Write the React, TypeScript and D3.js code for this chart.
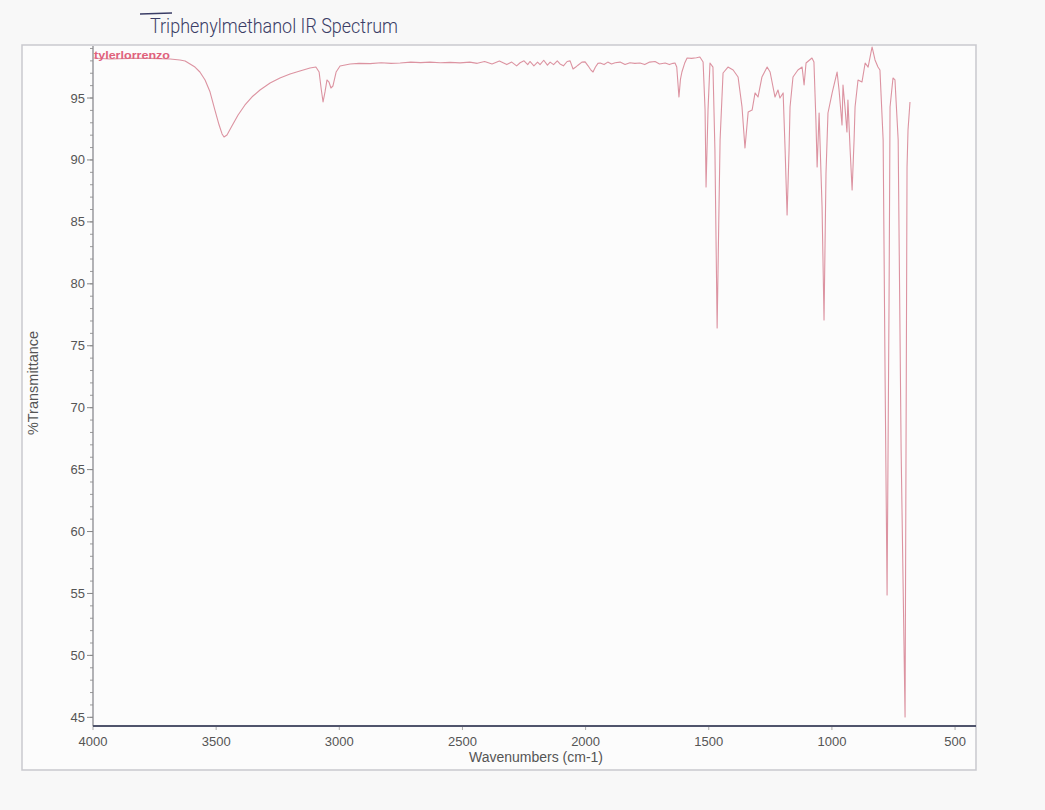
import React from "react";
import * as d3 from "d3";

// Wavenumbers (cm-1)
const wavenumbers: number[] = [
  4000, 3931, 3850, 3769, 3687, 3647, 3626, 3606, 3586, 3566, 3545, 3525, 3505, 3488, 3476, 3468,
  3456, 3436, 3411, 3383, 3354, 3322, 3281, 3241, 3200, 3160, 3119, 3095, 3082, 3074, 3066, 3058,
  3050, 3042, 3034, 3026, 3013, 2997, 2956, 2920, 2875, 2830, 2790, 2753, 2710, 2670, 2632, 2590,
  2550, 2510, 2470, 2440, 2410, 2380, 2350, 2320, 2300, 2280, 2266, 2250, 2235, 2226, 2210, 2195,
  2185, 2170, 2155, 2144, 2130, 2115, 2104, 2090, 2075, 2063, 2051, 2040, 2031, 2015, 2002, 1990,
  1980, 1970, 1960, 1950, 1941, 1925, 1910, 1895, 1880, 1860, 1840, 1820, 1800, 1779, 1760, 1740,
  1718, 1700, 1677, 1660, 1645, 1637, 1630, 1621, 1615, 1609, 1598, 1588, 1570, 1550, 1536, 1523,
  1515, 1511, 1503, 1495, 1483, 1475, 1466, 1458, 1454, 1442, 1422, 1401, 1381, 1365, 1353, 1340,
  1324, 1312, 1300, 1284, 1263, 1251, 1231, 1219, 1211, 1198, 1190, 1182, 1174, 1170, 1158, 1138,
  1121, 1113, 1105, 1081, 1073, 1065, 1060, 1052, 1040, 1032, 1024, 1016, 999, 979, 971, 959,
  955, 947, 939, 935, 926, 918, 910, 906, 894, 878, 865, 853, 837, 825, 813, 805,
  792, 784, 776, 768, 764, 752, 744, 731, 719, 703, 695, 691, 683,
];

// % Transmittance
const transmittance: number[] = [
  98.23, 98.15, 98.2, 98.2, 98.15, 98.07, 97.99, 97.75, 97.5, 97.1, 96.45, 95.5, 94.03, 92.82, 92.1, 91.85,
  92.01, 92.74, 93.63, 94.44, 95.1, 95.65, 96.21, 96.62, 96.94, 97.18, 97.42, 97.5, 97.1, 95.81, 94.68, 95.49,
  96.46, 96.29, 95.81, 95.97, 97.1, 97.59, 97.75, 97.8, 97.78, 97.85, 97.8, 97.83, 97.9, 97.86, 97.9, 97.85,
  97.88, 97.84, 97.9, 97.8, 97.95, 97.75, 97.98, 97.7, 97.9, 97.6, 97.85, 98.0, 97.7, 97.95, 97.6, 97.9,
  97.7, 98.05, 97.65, 97.9, 97.7, 98.0, 97.75, 97.6, 97.95, 98.0, 97.34, 97.5, 97.65, 97.9, 97.92, 97.6,
  97.3, 97.1, 97.5, 97.8, 97.83, 97.7, 97.9, 97.75, 97.85, 97.9, 97.7, 97.85, 97.8, 97.83, 97.7, 97.9,
  97.95, 97.75, 97.83, 97.7, 97.8, 97.83, 97.5, 95.08, 96.5, 97.1, 97.8, 98.23, 98.2, 98.25, 98.31, 97.91,
  94.03, 87.82, 94.03, 97.83, 97.5, 90.81, 76.43, 86.77, 91.61, 97.02, 97.5, 97.26, 96.7, 94.28, 90.97, 93.87,
  94.03, 95.41, 95.08, 96.7, 97.5, 97.1, 95.08, 95.65, 95.0, 95.41, 90.81, 85.56, 90.81, 94.28, 96.7, 97.26,
  97.5, 96.05, 97.83, 98.23, 97.91, 93.23, 89.43, 93.79, 86.2, 77.08, 88.95, 93.79, 95.41, 97.1, 95.65, 92.82,
  96.05, 94.28, 92.26, 94.84, 90.81, 87.57, 91.61, 94.28, 96.46, 96.29, 97.83, 97.5, 99.12, 98.07, 97.5, 97.26,
  91.61, 72.23, 54.88, 78.69, 94.28, 96.62, 96.46, 91.61, 66.58, 45.03, 89.43, 92.42, 94.68,
];

const xTicks: number[] = [4000, 3500, 3000, 2500, 2000, 1500, 1000, 500];
const yTicks: number[] = [45, 50, 55, 60, 65, 70, 75, 80, 85, 90, 95];
const yMinorTicks: number[] = d3.range(45, 100, 1);

const W = 1045;
const H = 810;
const left = 93;
const right = 976;
const top = 46;
const bottom = 726;

export default function App() {
  const x = d3.scaleLinear().domain([4000, 415]).range([left, right]);
  const y = d3.scaleLinear().domain([44.3, 99.2]).range([bottom, top]);
  const pts: [number, number][] = wavenumbers.map((w, i) => [w, transmittance[i]]);
  const line = d3
    .line<[number, number]>()
    .x((d) => x(d[0]))
    .y((d) => y(d[1]));
  const font = "'Liberation Sans', Arial, sans-serif";
  return (
    <svg
      width={W}
      height={H}
      style={{ position: "absolute", left: 0, top: 0 }}
      xmlns="http://www.w3.org/2000/svg"
    >
      <rect x={0} y={0} width={W} height={H} fill="#f8f8f8" />
      {/* outer frame */}
      <rect x={22} y={45} width={right - 22} height={770 - 45} fill="#fcfcfc" stroke="#c9c9ce" strokeWidth={1.5} />
      {/* title (handwritten in original) */}
      <line x1={140} y1={14} x2={172} y2={13} stroke="#3a3d66" strokeWidth={1.3} />
      <text
        x={150}
        y={33}
        fontFamily="Roboto, 'Open Sans', sans-serif"
        fontWeight={300}
        fontSize={21}
        fill="#3a3d66"
        textLength={248}
        lengthAdjust="spacingAndGlyphs"
      >
        Triphenylmethanol IR Spectrum
      </text>
      {/* y minor ticks */}
      {yMinorTicks.map((t) => (
        <line key={"m" + t} x1={left - 3} x2={left} y1={y(t)} y2={y(t)} stroke="#9a9a9a" strokeWidth={1} />
      ))}
      {/* y major ticks & labels */}
      {yTicks.map((t) => (
        <g key={"y" + t}>
          <line x1={left - 6} x2={left} y1={y(t)} y2={y(t)} stroke="#888" strokeWidth={1} />
          <text
            x={left - 8}
            y={y(t)}
            textAnchor="end"
            dominantBaseline="central"
            fontFamily={font}
            fontSize={13}
            fill="#555"
          >
            {t}
          </text>
        </g>
      ))}
      {/* x ticks & labels */}
      {xTicks.map((t) => (
        <g key={"x" + t}>
          <line x1={x(t)} x2={x(t)} y1={bottom} y2={bottom + 4} stroke="#aaa" strokeWidth={1} />
          <text x={x(t)} y={746} textAnchor="middle" fontFamily={font} fontSize={13} fill="#555">
            {t}
          </text>
        </g>
      ))}
      {/* axes */}
      <line x1={left} x2={left} y1={top} y2={bottom} stroke="#8a8a90" strokeWidth={1.3} />
      <line x1={left} x2={right} y1={bottom} y2={bottom} stroke="#50546c" strokeWidth={2} />
      {/* axis titles */}
      <text x={536} y={762} textAnchor="middle" fontFamily={font} fontSize={14} fill="#555">
        Wavenumbers (cm-1)
      </text>
      <text
        transform={`translate(38, 383) rotate(-90)`}
        textAnchor="middle"
        fontFamily={font}
        fontSize={14.5}
        fill="#555"
      >
        %Transmittance
      </text>
      {/* spectrum */}
      <path d={line(pts) || ""} fill="none" stroke="#dc93a1" strokeWidth={1.1} strokeLinejoin="round" />
      <text
        x={94}
        y={59}
        fontFamily={font}
        fontWeight="bold"
        fontSize={11.5}
        fill="#e0627c"
        textLength={76}
        lengthAdjust="spacingAndGlyphs"
      >
        tylerlorrenzo
      </text>
    </svg>
  );
}
